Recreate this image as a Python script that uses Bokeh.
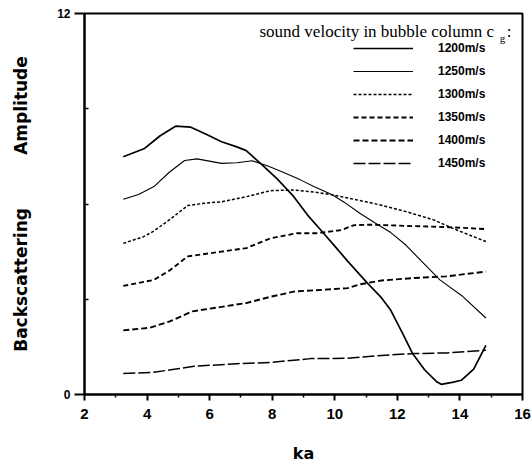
from bokeh.plotting import figure
from bokeh.models import Range1d, FixedTicker, Legend, LegendItem, Label
from bokeh.embed import file_html
from bokeh.resources import INLINE

# ---- data ----
ka_1200 = [3.24, 3.92, 4.42, 4.91, 5.40, 5.89, 6.38, 6.87, 7.17, 7.66, 8.15, 8.69, 9.13,
           9.58, 10.02, 10.41, 11.05, 11.49, 11.79, 12.18, 12.48, 12.87, 13.26, 13.40,
           13.75, 14.05, 14.44, 14.83]
amp_1200 = [7.49, 7.75, 8.15, 8.45, 8.42, 8.20, 7.96, 7.80, 7.68, 7.25, 6.80, 6.23, 5.65,
            5.15, 4.65, 4.20, 3.50, 3.05, 2.65, 1.90, 1.30, 0.78, 0.40, 0.32,
            0.38, 0.45, 0.80, 1.55]

ka_1250 = [3.24, 3.73, 4.22, 4.71, 5.20, 5.60, 6.38, 6.87, 7.36, 7.86, 8.35, 8.90, 9.33,
           9.92, 10.31, 10.80, 11.29, 11.79, 12.28, 12.77, 13.36, 14.05, 14.83]
amp_1250 = [6.15, 6.30, 6.55, 7.00, 7.37, 7.42, 7.28, 7.30, 7.36, 7.20, 7.00, 6.76, 6.55,
            6.29, 6.05, 5.71, 5.40, 5.10, 4.70, 4.20, 3.61, 3.12, 2.41]

ka_1300 = [3.24, 3.89, 4.22, 4.71, 5.30, 5.89, 6.38, 7.17, 7.95, 8.64, 9.33, 9.97, 10.60,
           11.24, 12.28, 13.16, 13.90, 14.83]
amp_1300 = [4.76, 4.97, 5.15, 5.50, 5.95, 6.03, 6.07, 6.23, 6.42, 6.44, 6.38, 6.28, 6.15,
            6.02, 5.76, 5.50, 5.18, 4.82]

ka_1350 = [3.24, 4.22, 4.71, 5.30, 6.38, 7.17, 7.95, 8.79, 9.43, 10.21, 10.60, 11.10,
           12.28, 13.65, 14.83]
amp_1350 = [3.42, 3.61, 3.90, 4.35, 4.50, 4.61, 4.92, 5.08, 5.08, 5.18, 5.33, 5.35,
            5.31, 5.27, 5.21]

ka_1400 = [3.24, 4.08, 4.72, 5.45, 6.38, 7.17, 7.95, 8.74, 9.33, 10.41, 10.80, 11.49,
           12.53, 13.56, 14.83]
amp_1400 = [2.02, 2.10, 2.30, 2.62, 2.76, 2.88, 3.08, 3.25, 3.28, 3.35, 3.47, 3.59,
            3.67, 3.72, 3.87]

ka_1450 = [3.24, 4.22, 4.91, 5.50, 6.87, 7.95, 9.23, 10.41, 11.49, 12.53, 13.56, 14.83]
amp_1450 = [0.66, 0.70, 0.80, 0.89, 0.97, 1.01, 1.13, 1.14, 1.23, 1.29, 1.31, 1.39]

series_labels = ["1200m/s", "1250m/s", "1300m/s", "1350m/s", "1400m/s", "1450m/s"]
x_ticks = [2, 4, 6, 8, 10, 12, 14, 16]
x_minor = [3, 5, 7, 9, 11, 13, 15]
y_ticks = [0, 12]
y_minor = [3, 6, 9]

# ---- figure ----
p = figure(width=531, height=465, output_backend="svg", toolbar_location=None,
           x_range=Range1d(2, 16), y_range=Range1d(0, 12),
           min_border_left=84, min_border_right=9, min_border_top=13, min_border_bottom=70)
p.grid.visible = False
p.outline_line_color = "black"
p.outline_line_width = 2
p.background_fill_color = "white"
p.border_fill_color = "white"

xa = p.xaxis[0]
xa.ticker = FixedTicker(ticks=x_ticks, minor_ticks=x_minor)
xa.axis_line_width = 2
xa.major_tick_line_width = 2
xa.major_tick_out = 6
xa.major_tick_in = 0
xa.minor_tick_out = 3
xa.minor_tick_in = 0
xa.minor_tick_line_width = 1.5
xa.major_label_text_font = "Liberation Sans"
xa.major_label_text_font_style = "bold"
xa.major_label_text_font_size = "15px"
xa.major_label_text_color = "black"
xa.major_label_standoff = 8
xa.axis_label = "ka"
xa.axis_label_text_font = "DejaVu Sans"
xa.axis_label_text_font_style = "bold"
xa.axis_label_text_font_size = "16px"
xa.axis_label_text_color = "black"
xa.axis_label_standoff = 22

ya = p.yaxis[0]
ya.ticker = FixedTicker(ticks=y_ticks, minor_ticks=y_minor)
ya.axis_line_width = 2
ya.major_tick_line_width = 2
ya.major_tick_out = 10
ya.major_tick_in = 0
ya.minor_tick_in = 4
ya.minor_tick_out = 0
ya.minor_tick_line_width = 1.5
ya.major_label_text_font = "Liberation Sans"
ya.major_label_text_font_style = "bold"
ya.major_label_text_font_size = "12px"
ya.major_label_text_color = "black"
ya.major_label_standoff = 4
ya.axis_label = "Backscattering\u00a0\u00a0\u00a0\u00a0\u00a0\u00a0\u00a0\u00a0\u00a0Amplitude"
ya.axis_label_text_font = "DejaVu Sans"
ya.axis_label_text_font_style = "bold"
ya.axis_label_text_font_size = "17px"
ya.axis_label_text_color = "black"
ya.axis_label_standoff = 23

r1 = p.line(ka_1200, amp_1200, line_color="black", line_width=1.7)
r2 = p.line(ka_1250, amp_1250, line_color="black", line_width=1.1)
r3 = p.line(ka_1300, amp_1300, line_color="black", line_width=1.5, line_dash="3 2")
r4 = p.line(ka_1350, amp_1350, line_color="black", line_width=1.9, line_dash="5 3")
r5 = p.line(ka_1400, amp_1400, line_color="black", line_width=1.9, line_dash="6 3")
r6 = p.line(ka_1450, amp_1450, line_color="black", line_width=1.5, line_dash="12 3")
renderers = [r1, r2, r3, r4, r5, r6]

legend = Legend(items=[LegendItem(label=l, renderers=[r]) for l, r in zip(series_labels, renderers)],
                location="top_right", margin=25, padding=0, spacing=3,
                glyph_height=20, glyph_width=60, label_standoff=25, label_width=59,
                label_text_font="Liberation Sans", label_text_font_style="bold",
                label_text_font_size="12px", label_text_color="black",
                border_line_color=None, background_fill_alpha=0)
p.add_layout(legend)

# legend title (with subscript g)
p.add_layout(Label(x=15.23, y=11.43, text="sound velocity in bubble column  c",
                   text_font="Liberation Serif", text_font_size="17px",
                   text_align="right", text_baseline="alphabetic", text_color="black"))
p.add_layout(Label(x=15.27, y=11.24, text="g", text_font="Liberation Serif",
                   text_font_size="11px", text_align="left", text_baseline="alphabetic",
                   text_color="black"))
p.add_layout(Label(x=15.5, y=11.43, text=":", text_font="Liberation Serif",
                   text_font_size="17px", text_align="left", text_baseline="alphabetic",
                   text_color="black"))

open("out.html", "w").write(file_html(p, INLINE))
